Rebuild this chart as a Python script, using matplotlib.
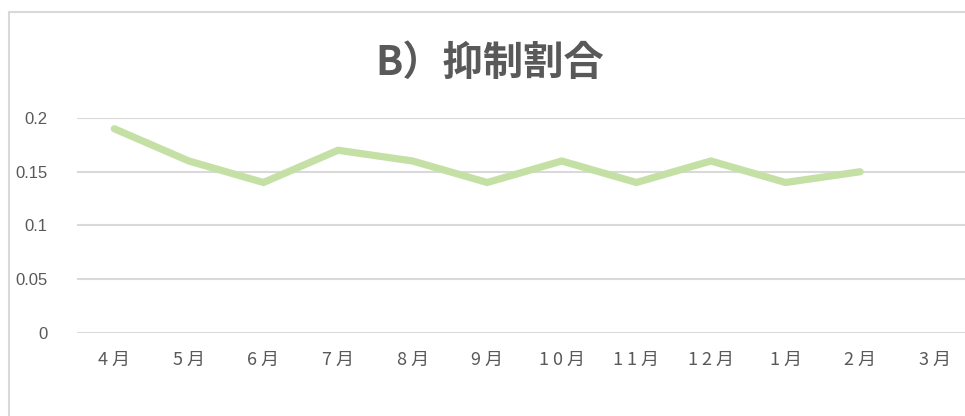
import matplotlib
matplotlib.use("Agg")
import matplotlib.pyplot as plt
from matplotlib.patches import Rectangle
import numpy as np

plt.rcParams['font.family'] = ['Noto Sans CJK JP', 'DejaVu Sans']

months = ["4月", "5月", "6月", "7月", "8月", "9月", "10月", "11月", "12月", "1月", "2月", "3月"]
values = [0.19, 0.16, 0.14, 0.17, 0.16, 0.14, 0.16, 0.14, 0.16, 0.14, 0.15, np.nan]
yticks = [0, 0.05, 0.1, 0.15, 0.2]
yticklabels = ["0", "0.05", "0.1", "0.15", "0.2"]
title = "B）抑制割合"

W, H = 965, 416
fig = plt.figure(figsize=(W / 100, H / 100), dpi=100)
fig.patches.append(Rectangle((9 / W, -0.1), 1.2, 1 - 12 / H + 0.1, transform=fig.transFigure,
                             fill=False, edgecolor="#D9D9D9", linewidth=1.5))

left, right = 77, 972
ax = fig.add_axes([left / W, (H - 333) / H, (right - left) / W, 215 / H])
x = np.arange(len(months))
ax.plot(x, values, color="#C5E0A5", linewidth=5.2, solid_capstyle="round", solid_joinstyle="miter", zorder=3)
ax.set_xlim(-0.5, len(months) - 0.5)
ax.set_ylim(0, 0.2)
ax.set_yticks(yticks)
ax.set_yticklabels(yticklabels, fontsize=12, color="#595959", family=['Liberation Sans', 'DejaVu Sans'])
ax.set_xticks(x)
spaced = [" ".join(list(m)) for m in months]
ax.set_xticklabels(spaced, fontsize=13, color="#595959")
ax.tick_params(axis='y', length=0, pad=21)
ax.tick_params(axis='x', length=0, pad=13)
ax.grid(axis='y', color="#D9D9D9", linewidth=1.5)
ax.set_axisbelow(True)
for s in ax.spines.values():
    s.set_visible(False)
ax.patch.set_alpha(0)

fig.text(490 / W, 1 - 63 / H, title, ha="center", va="center", fontsize=29, fontweight="bold", color="#595959")

fig.savefig("out.png", dpi=100)
